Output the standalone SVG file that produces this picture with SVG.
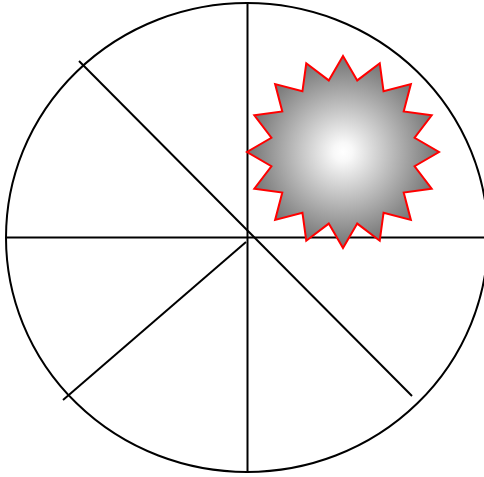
<svg xmlns="http://www.w3.org/2000/svg" width="484" height="477" viewBox="0 0 484 477">
<style>
.ln{stroke:#000;stroke-width:2;fill:none}
</style>
<defs>
<radialGradient id="g" gradientUnits="userSpaceOnUse" cx="343" cy="152" r="96">
<stop offset="0" stop-color="#ffffff"/>
<stop offset="0.1" stop-color="#f8f8f8"/>
<stop offset="1" stop-color="#727272"/>
</radialGradient>
</defs>
<g id="connectors">
<ellipse class="ln" cx="247" cy="237.5" rx="241" ry="234.5"/>
<line class="ln" x1="247.5" y1="3" x2="247.5" y2="472"/>
<line class="ln" x1="6" y1="237.5" x2="490" y2="237.5"/>
<line class="ln" x1="79" y1="61" x2="412" y2="396"/>
<line class="ln" x1="246" y1="242" x2="63" y2="400"/>
</g>
<g id="star">
<polygon fill="url(#g)" stroke="#ff0000" stroke-width="2" points="343,56 357.24,80.4 379.74,63.31 383.56,91.3 410.88,84.12 403.7,111.44 431.69,115.26 414.6,137.76 439,152 414.6,166.24 431.69,188.74 403.7,192.56 410.88,219.88 383.56,212.7 379.74,240.69 357.24,223.6 343,248 328.76,223.6 306.26,240.69 302.44,212.7 275.12,219.88 282.3,192.56 254.31,188.74 271.4,166.24 247,152 271.4,137.76 254.31,115.26 282.3,111.44 275.12,84.12 302.44,91.3 306.26,63.31 328.76,80.4"/>
</g>
</svg>
